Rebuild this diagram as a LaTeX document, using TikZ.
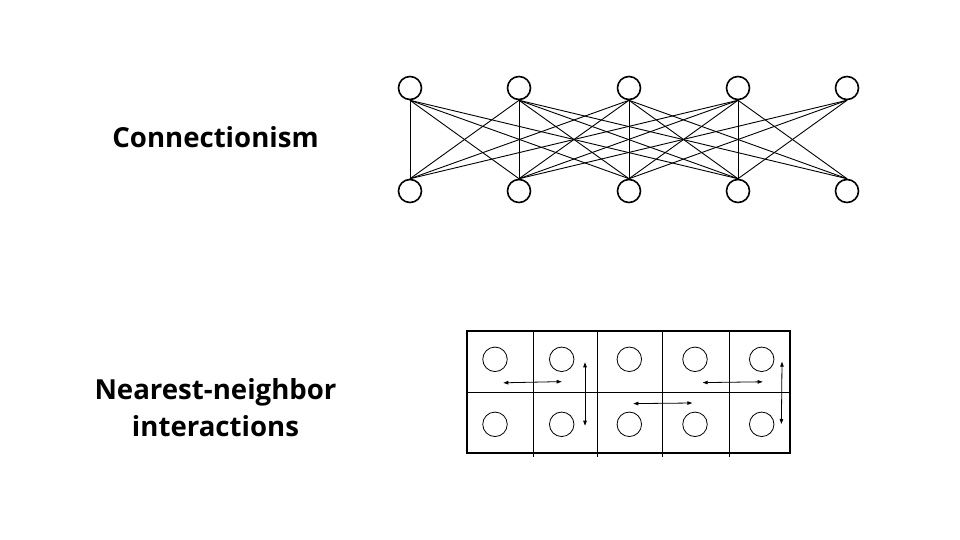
\documentclass[tikz,border=0pt]{standalone}
\usepackage{fontspec}
\setmainfont{Open Sans}
\usetikzlibrary{arrows.meta}
\begin{document}
\begin{tikzpicture}[x=1pt,y=-1pt,
  neuron/.style={circle,draw,line width=1.6pt,minimum size=23pt,inner sep=0pt},
  cell/.style={circle,draw,line width=0.8pt,minimum size=24.5pt,inner sep=0pt},
  link/.style={line width=0.9pt},
  gridline/.style={line width=0.9pt},
  frame/.style={line width=1.8pt},
  swap/.style={line width=0.8pt,{Triangle[length=5pt,width=3.5pt]}-{Triangle[length=5pt,width=3.5pt]}},
  lbl/.style={font=\bfseries\fontsize{27.6}{37}\selectfont,align=center}]
\useasboundingbox (0,0) rectangle (960,540);
% labels
\node[lbl] (conn) at (215.5,137) {Connectionism};
\node[lbl] (near) at (215.5,408) {Nearest-neighbor\\interactions};
% network
\foreach \i/\x in {1/410,2/519,3/629,4/738,5/847}{
  \node[neuron] (t\i) at (\x,88) {};
  \node[neuron] (b\i) at (\x,191) {};
}
\foreach \i/\js in {1/{1,2,3,4},2/{1,2,3,4,5},3/{1,2,3,4,5},4/{1,2,3,4,5},5/{2,3,4}}{
  \foreach \j in \js { \draw[link] (t\i.south) -- (b\j.north); }
}
% grid
\coordinate (g0) at (467,331);
\coordinate (g1) at (790,453);
\foreach \k/\x in {1/533,2/597,3/662,4/729}{
  \coordinate (vt\k) at (\x,331);
  \coordinate (vb\k) at (\x,457);
  \draw[gridline] (vt\k) -- (vb\k);
}
\coordinate (hl) at (467,392);
\coordinate (hr) at (790,392);
\draw[gridline] (hl) -- (hr);
\draw[frame] (g0) rectangle (g1);
\foreach \i/\x in {1/495,2/561.7,3/629.3,4/695,5/761.7}{
  \node[cell] (u\i) at (\x,359.3) {};
  \node[cell] (d\i) at (\x,424.3) {};
}
% exchange arrows
\coordinate (a1l) at (503.3,382.8);
\coordinate (a1r) at (561.7,381.6);
\coordinate (a2t) at (585,362.3);
\coordinate (a2b) at (585,425.7);
\coordinate (a3l) at (633.3,403.6);
\coordinate (a3r) at (692.3,403);
\coordinate (a4l) at (702.7,382.6);
\coordinate (a4r) at (762.7,381.8);
\coordinate (a5t) at (782,361.7);
\coordinate (a5b) at (781.4,424);
\draw[swap] (a1l) -- (a1r);
\draw[swap] (a2t) -- (a2b);
\draw[swap] (a3l) -- (a3r);
\draw[swap] (a4l) -- (a4r);
\draw[swap] (a5t) -- (a5b);
\end{tikzpicture}
\end{document}
